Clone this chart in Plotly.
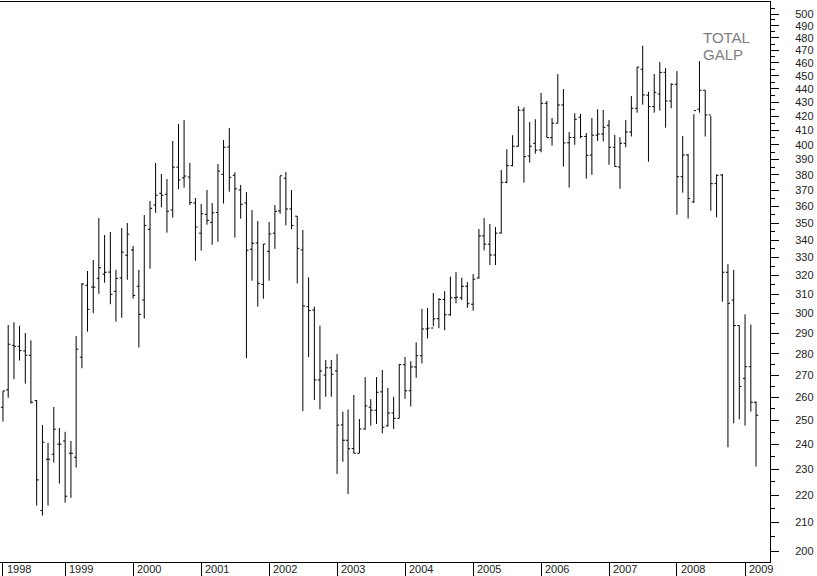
import plotly.graph_objects as go
import pandas as pd

dates = pd.date_range("1998-02-01", periods=134, freq="MS")

opens = [255.6, 263.3, 284.1, 283.6, 281.4, 279.3, 258.5, 214.3, 233.9, 235.9,
         240.0, 241.3, 236.3, 234.7, 278.4, 314.7, 313.8, 318.5, 320.8, 321.9,
         311.5, 318.7, 331.3, 334.3, 314.2, 306.9, 346.3, 360.9, 368.2, 367.6,
         357.9, 385.0, 378.0, 378.6, 362.2, 344.0, 355.2, 350.4, 356.4, 380.3,
         398.5, 379.7, 370.3, 362.2, 334.7, 338.3, 315.2, 333.5, 344.0, 357.3,
         377.8, 358.5, 354.1, 334.3, 303.5, 301.7, 267.8, 270.0, 273.4, 271.9,
         248.0, 241.6, 238.2, 236.3, 246.3, 255.6, 254.3, 262.4, 247.6, 253.1,
         250.8, 274.8, 262.9, 273.8, 279.1, 292.1, 292.6, 297.3, 307.2, 299.3,
         308.1, 308.1, 314.2, 304.7, 318.7, 342.4, 337.6, 331.4, 344.1, 375.2,
         386.0, 399.0, 424.3, 392.4, 401.0, 396.5, 429.3, 404.9, 415.0, 428.1,
         401.4, 405.0, 419.2, 405.7, 393.1, 406.6, 407.4, 413.5, 398.3, 385.1,
         401.0, 408.8, 425.7, 455.0, 435.3, 426.9, 436.2, 452.6, 431.0, 443.5,
         378.8, 393.1, 362.8, 425.0, 439.0, 420.9, 374.5, 379.9, 321.8, 306.9,
         293.8, 268.5, 273.9, 257.8]

highs = [262.8, 294.1, 295.5, 293.7, 290.1, 286.5, 258.8, 248.0, 240.5, 255.7,
         246.7, 245.1, 241.3, 288.6, 315.8, 322.5, 328.6, 353.0, 342.9, 344.7,
         323.1, 347.1, 350.0, 336.6, 323.1, 354.8, 363.4, 387.8, 380.5, 377.3,
         402.6, 414.5, 417.3, 387.8, 365.3, 361.6, 370.3, 362.2, 387.1, 403.3,
         411.6, 381.6, 373.5, 369.0, 357.9, 351.2, 337.7, 350.6, 360.9, 379.4,
         381.8, 370.3, 354.1, 345.9, 319.0, 303.5, 293.8, 277.1, 277.1, 279.9,
         253.7, 254.6, 261.0, 250.5, 269.1, 259.2, 269.1, 272.4, 264.2, 260.2,
         275.2, 278.5, 276.5, 285.5, 302.3, 302.8, 310.6, 307.9, 311.6, 319.4,
         321.9, 318.8, 316.5, 320.8, 346.5, 353.0, 349.4, 347.6, 383.2, 397.0,
         406.6, 427.2, 426.4, 415.9, 417.8, 437.0, 431.0, 418.7, 451.3, 439.9,
         408.8, 422.1, 421.6, 408.1, 418.7, 425.0, 424.5, 417.3, 406.8, 405.2,
         417.3, 434.7, 456.7, 473.7, 437.9, 451.3, 460.6, 456.0, 444.2, 453.6,
         406.0, 393.8, 421.4, 461.4, 439.0, 420.1, 380.2, 380.5, 326.3, 323.1,
         293.8, 299.5, 294.3, 258.1]

lows = [249.4, 259.8, 268.1, 276.8, 266.1, 257.2, 216.1, 212.5, 216.1, 232.6,
        224.4, 217.2, 219.0, 230.6, 273.2, 290.8, 300.1, 310.2, 316.1, 304.7,
        295.8, 297.8, 317.7, 307.6, 283.0, 297.3, 323.8, 356.2, 359.5, 344.3,
        353.2, 370.8, 371.8, 360.9, 328.2, 333.9, 349.0, 337.3, 339.0, 361.8,
        369.2, 341.4, 352.6, 277.9, 317.2, 303.5, 307.6, 317.2, 334.9, 355.6,
        348.6, 346.3, 315.8, 253.9, 278.4, 258.8, 254.7, 260.2, 260.2, 228.1,
        232.9, 220.4, 236.3, 236.3, 246.0, 247.7, 248.4, 244.5, 247.3, 246.3,
        250.8, 259.3, 255.9, 268.8, 275.4, 287.5, 293.5, 292.5, 291.5, 298.8,
        305.2, 306.9, 302.8, 301.4, 318.3, 334.0, 325.7, 325.8, 343.7, 374.6,
        385.6, 398.7, 375.0, 388.0, 394.0, 394.9, 404.9, 399.4, 415.0, 385.4,
        371.8, 400.0, 404.5, 377.5, 380.0, 402.6, 402.4, 386.6, 385.4, 371.1,
        398.3, 405.7, 422.5, 428.3, 388.6, 422.5, 424.0, 411.8, 425.7, 355.0,
        368.6, 352.7, 362.2, 422.5, 405.7, 357.4, 353.4, 306.0, 238.7, 248.7,
        250.4, 247.7, 253.7, 231.0]

closes = [262.8, 284.6, 283.6, 281.5, 279.3, 257.8, 225.8, 240.8, 233.9, 246.2,
          240.0, 219.6, 236.3, 282.2, 315.4, 302.1, 313.7, 324.3, 321.8, 309.9,
          318.5, 333.0, 343.4, 309.3, 299.5, 348.6, 358.9, 367.0, 367.0, 357.1,
          385.0, 376.7, 379.2, 362.4, 347.6, 355.6, 351.6, 356.2, 382.4, 398.3,
          378.4, 371.0, 361.4, 334.1, 338.1, 315.8, 337.7, 343.5, 357.1, 379.4,
          358.5, 348.6, 335.2, 303.8, 301.4, 267.8, 271.9, 273.4, 270.4, 247.9,
          241.6, 238.1, 236.3, 246.3, 256.2, 254.3, 262.2, 247.0, 253.1, 250.8,
          274.9, 262.9, 273.8, 279.1, 292.1, 292.5, 297.2, 307.2, 299.3, 308.1,
          308.4, 314.2, 305.0, 318.0, 342.4, 337.6, 331.4, 344.0, 375.2, 386.0,
          399.0, 424.3, 392.0, 399.0, 396.3, 429.3, 404.9, 415.0, 428.1, 401.2,
          405.0, 417.8, 405.7, 392.9, 406.6, 407.4, 412.1, 398.3, 385.4, 401.0,
          408.8, 425.7, 456.7, 435.5, 426.9, 437.5, 452.6, 431.0, 443.5, 378.8,
          393.1, 365.0, 424.0, 439.0, 420.9, 374.3, 379.7, 321.8, 305.2, 293.8,
          264.8, 273.9, 257.8, 252.1]

year_ticks = ["1998-02-01"] + [f"{y}-01-01" for y in range(1999, 2010)]
year_labels = [str(y) for y in range(1998, 2010)]
price_ticks = list(range(200, 501, 10))
price_minor = list(range(205, 506, 10))

fig = go.Figure(go.Ohlc(
    x=dates, open=opens, high=highs, low=lows, close=closes,
    increasing=dict(line=dict(color="black", width=1)),
    decreasing=dict(line=dict(color="black", width=1)),
    tickwidth=0.4, hoverinfo="skip"))

annotations = []
for d, t in zip(year_ticks, year_labels):
    annotations.append(dict(x=d, y=0, xref="x", yref="paper", text=t,
                            showarrow=False, xanchor="left", yanchor="middle",
                            xshift=2, yshift=-7,
                            font=dict(family="Liberation Sans", size=11, color="#222")))
annotations.append(dict(x=701/770, y=1 - (37.5 - 2) / 560, xref="paper", yref="paper",
                        text="TOTAL", showarrow=False, xanchor="left", yanchor="middle",
                        font=dict(family="Liberation Sans", size=15, color="#808080")))
annotations.append(dict(x=701/770, y=1 - (54 - 2) / 560, xref="paper", yref="paper",
                        text="GALP", showarrow=False, xanchor="left", yanchor="middle",
                        font=dict(family="Liberation Sans", size=15, color="#808080")))

fig.update_layout(
    width=817, height=576,
    margin=dict(l=0, r=47, t=2, b=14),
    paper_bgcolor="white", plot_bgcolor="white",
    showlegend=False,
    annotations=annotations,
    xaxis=dict(type="date", range=["1998-01-16", "2009-05-15"],
               rangeslider=dict(visible=False),
               showgrid=False, zeroline=False,
               showline=True, linecolor="black", linewidth=1, mirror=True,
               ticks="outside", ticklen=14, tickcolor="black", tickwidth=1,
               tickmode="array", tickvals=year_ticks, showticklabels=False),
    yaxis=dict(type="log", side="right", range=[2.29288, 2.70786],
               showgrid=False, zeroline=False,
               showline=True, linecolor="black", linewidth=1,
               ticks="outside", ticklen=8, tickcolor="black", tickwidth=1,
               tickmode="array", tickvals=price_ticks,
               ticktext=[str(v) for v in price_ticks],
               ticklabelstandoff=14,
               tickfont=dict(family="Liberation Sans", size=11, color="#222"),
               minor=dict(tickmode="array", tickvals=price_minor, ticks="outside",
                          ticklen=4, tickcolor="black", tickwidth=1, showgrid=False)),
)

fig.write_html("out.html", config={"displayModeBar": False},
               post_script="document.body.style.margin='0';document.body.style.padding='0';")
